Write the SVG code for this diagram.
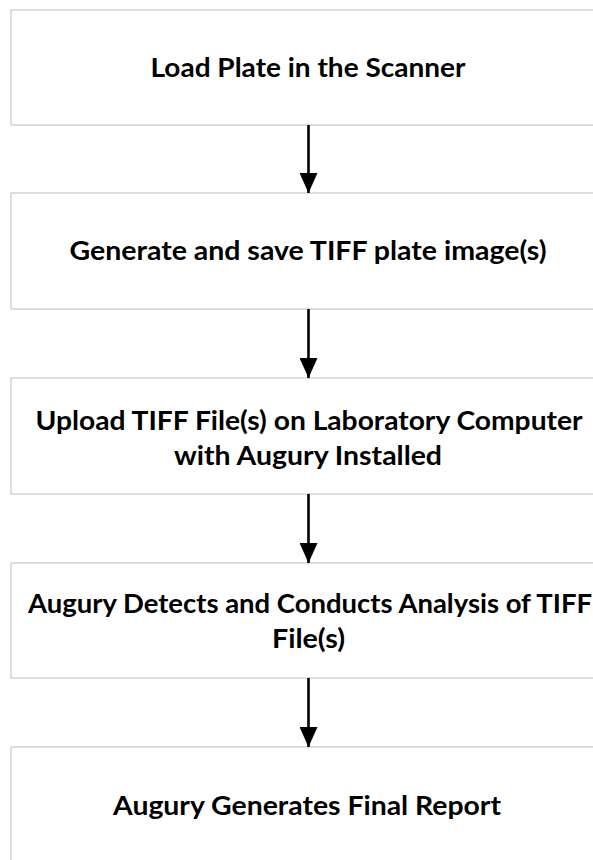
<svg xmlns="http://www.w3.org/2000/svg" width="593" height="860" viewBox="0 0 593 860">
<style>
.box{fill:#ffffff;stroke:#d2d2d2;stroke-width:1.5}
.lbl{font-family:Lato,"Open Sans","Liberation Sans",sans-serif;font-weight:bold;font-size:26px;fill:#000;text-anchor:middle}
.conn{stroke:#000;stroke-width:2.6;fill:none}
</style>
<defs>
<marker id="ah" markerUnits="userSpaceOnUse" markerWidth="20" markerHeight="18" viewBox="0 0 20 18" refX="20" refY="9" orient="auto">
<path d="M0,0 L20,9 L0,18 Z" fill="#000"/>
</marker>
</defs>
<rect width="593" height="860" fill="#fff"/>
<g id="n1">
<rect class="box" x="11" y="10" width="610" height="115"/>
<text class="lbl" x="308" y="77" textLength="315" lengthAdjust="spacingAndGlyphs">Load Plate in the Scanner</text>
</g>
<g id="n2">
<rect class="box" x="11" y="193" width="610" height="116"/>
<text class="lbl" x="308" y="260" textLength="477" lengthAdjust="spacingAndGlyphs">Generate and save TIFF plate image(s)</text>
</g>
<g id="n3">
<rect class="box" x="11" y="378" width="610" height="116"/>
<text class="lbl" x="309" y="430" textLength="547" lengthAdjust="spacingAndGlyphs">Upload TIFF File(s) on Laboratory Computer</text>
<text class="lbl" x="308" y="465" textLength="268" lengthAdjust="spacingAndGlyphs">with Augury Installed</text>
</g>
<g id="n4">
<rect class="box" x="11" y="563" width="610" height="115"/>
<text class="lbl" x="310" y="613" textLength="564" lengthAdjust="spacingAndGlyphs">Augury Detects and Conducts Analysis of TIFF</text>
<text class="lbl" x="308.5" y="648" textLength="73" lengthAdjust="spacingAndGlyphs">File(s)</text>
</g>
<g id="n5">
<rect class="box" x="11" y="747" width="610" height="130"/>
<text class="lbl" x="307" y="815" textLength="388" lengthAdjust="spacingAndGlyphs">Augury Generates Final Report</text>
</g>
<g id="connectors">
<line class="conn" x1="308.5" y1="125" x2="308.5" y2="193" marker-end="url(#ah)"/>
<line class="conn" x1="308.5" y1="309" x2="308.5" y2="378" marker-end="url(#ah)"/>
<line class="conn" x1="308.5" y1="494" x2="308.5" y2="563" marker-end="url(#ah)"/>
<line class="conn" x1="308.5" y1="678" x2="308.5" y2="747" marker-end="url(#ah)"/>
</g>
</svg>
